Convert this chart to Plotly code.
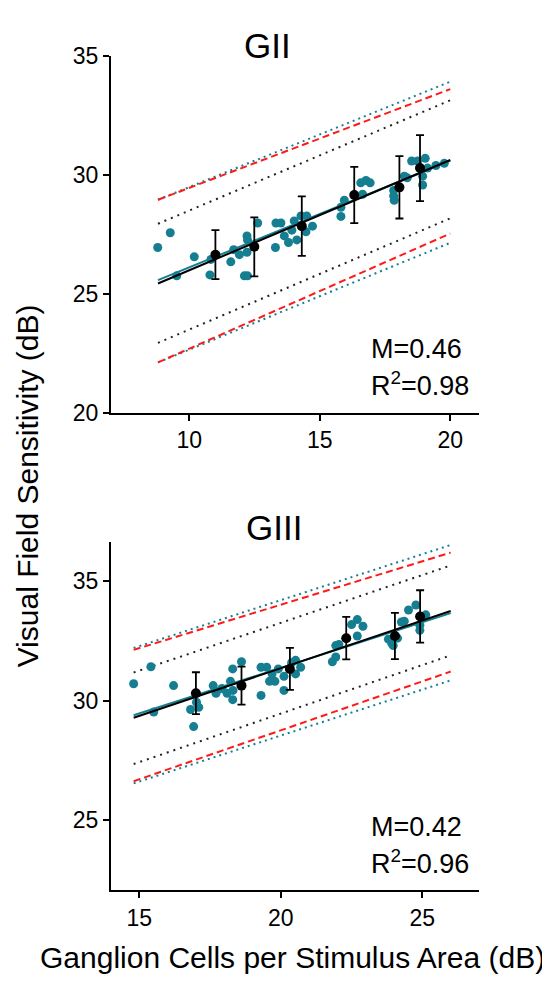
import plotly.graph_objects as go

W, H = 550, 984
TEAL = "#157f91"
FONT = "Arial, Liberation Sans, sans-serif"

# ---------------- GII data ----------------
gii_x = [8.79, 9.27, 9.52, 10.19, 10.79, 10.83, 11.59, 11.70, 11.92, 12.11, 12.23, 12.21, 12.21, 12.23,
         12.62, 13.30, 13.32, 13.51, 13.64, 13.80, 13.93, 14.02, 14.12, 14.28, 14.50, 14.47, 14.72,
         15.81, 15.81, 15.94, 16.57, 16.77, 16.93, 16.64, 17.83, 17.83, 17.85, 18.24, 18.35, 18.52,
         18.75, 19.04, 18.94, 18.94, 19.13, 19.45, 19.77]
gii_y = [26.95, 27.57, 25.76, 26.56, 25.80, 26.45, 26.35, 26.86, 26.65, 25.76, 25.76, 26.75, 27.44, 27.27,
         27.98, 26.95, 27.98, 27.98, 27.44, 27.16, 27.68, 28.07, 27.27, 28.28, 28.28, 27.61, 27.85,
         28.26, 28.64, 28.94, 29.67, 29.77, 29.67, 29.19, 29.35, 29.12, 28.94, 29.95, 29.88, 30.59,
         30.59, 30.70, 29.95, 29.58, 30.29, 30.40, 30.49]
gii_mean_x = [11.0, 12.49, 14.31, 16.32, 18.05, 18.84]
gii_mean_y = [26.65, 26.98, 27.85, 29.16, 29.48, 30.29]
gii_err = [1.03, 1.24, 1.25, 1.18, 1.31, 1.39]
gii_line_x = [8.8, 20.0]
gii_fit_black = [25.44, 30.63]
gii_fit_teal = [25.58, 30.60]
gii_pi_black_hi = [27.95, 33.14]
gii_pi_black_lo = [22.94, 28.18]
gii_pi_red_hi = [28.96, 33.61]
gii_pi_red_lo = [22.12, 27.54]
gii_pi_teal_hi = [28.96, 33.92]
gii_pi_teal_lo = [22.12, 27.15]

# ---------------- GIII data ----------------
giii_x = [14.80, 15.41, 15.51, 16.21, 16.81, 16.92, 17.02, 17.10, 17.61, 17.71, 17.92, 18.10, 18.22,
          18.30, 18.31, 18.30, 18.61, 19.30, 19.50, 19.30, 19.60, 19.79, 19.69, 19.91, 20.11, 20.11,
          20.38, 20.52, 20.52, 20.70, 21.82, 21.94, 21.94, 22.05, 22.50, 22.70, 22.70, 22.90, 23.80,
          23.92, 23.97, 24.12, 24.26, 24.36, 24.51, 24.77, 24.91, 24.91, 25.12]
giii_y = [30.71, 31.42, 29.52, 30.63, 29.63, 28.91, 29.93, 29.72, 30.63, 30.31, 30.51, 30.31, 30.81,
          31.33, 30.43, 30.04, 31.63, 31.40, 31.40, 30.22, 30.81, 30.81, 31.12, 31.33, 31.02, 30.43,
          31.59, 31.69, 31.12, 31.40, 31.63, 31.83, 32.31, 32.35, 33.19, 33.40, 32.71, 33.12, 32.58,
          32.40, 32.31, 32.62, 33.30, 33.33, 33.80, 34.01, 32.95, 33.16, 33.60]
giii_mean_x = [17.0, 18.61, 20.32, 22.31, 24.03, 24.92]
giii_mean_y = [30.31, 30.63, 31.33, 32.62, 32.71, 33.53]
giii_err = [0.88, 0.80, 0.88, 0.89, 0.97, 1.10]
giii_line_x = [14.8, 26.0]
giii_fit_black = [29.28, 33.76]
giii_fit_teal = [29.39, 33.67]
giii_pi_black_hi = [31.18, 35.67]
giii_pi_black_lo = [27.34, 31.90]
giii_pi_red_hi = [32.13, 36.21]
giii_pi_red_lo = [26.62, 31.22]
giii_pi_teal_hi = [32.21, 36.53]
giii_pi_teal_lo = [26.53, 30.85]

panels = [
    dict(xa="x", ya="y", px=gii_x, py=gii_y, mx=gii_mean_x, my=gii_mean_y, me=gii_err, lx=gii_line_x,
         fb=gii_fit_black, ft=gii_fit_teal, bh=gii_pi_black_hi, bl=gii_pi_black_lo,
         rh=gii_pi_red_hi, rl=gii_pi_red_lo, th=gii_pi_teal_hi, tl=gii_pi_teal_lo),
    dict(xa="x2", ya="y2", px=giii_x, py=giii_y, mx=giii_mean_x, my=giii_mean_y, me=giii_err, lx=giii_line_x,
         fb=giii_fit_black, ft=giii_fit_teal, bh=giii_pi_black_hi, bl=giii_pi_black_lo,
         rh=giii_pi_red_hi, rl=giii_pi_red_lo, th=giii_pi_teal_hi, tl=giii_pi_teal_lo),
]

fig = go.Figure()
for p in panels:
    ax = dict(xaxis=p["xa"], yaxis=p["ya"], showlegend=False, hoverinfo="skip")
    for key, col, dash in [("th", TEAL, "2px,4px"), ("tl", TEAL, "2px,4px"),
                           ("rh", "#ff1a1a", "7px,4px"), ("rl", "#ff1a1a", "7px,4px"),
                           ("bh", "#222222", "2px,5px"), ("bl", "#222222", "2px,5px")]:
        fig.add_trace(go.Scatter(x=p["lx"], y=p[key], mode="lines",
                                 line=dict(color=col, width=2, dash=dash), **ax))
    fig.add_trace(go.Scatter(x=p["px"], y=p["py"], mode="markers",
                             marker=dict(color=TEAL, size=9, line=dict(width=0)), **ax))
    fig.add_trace(go.Scatter(x=p["lx"], y=p["ft"], mode="lines",
                             line=dict(color=TEAL, width=2), **ax))
    fig.add_trace(go.Scatter(x=p["lx"], y=p["fb"], mode="lines",
                             line=dict(color="black", width=2), **ax))
    fig.add_trace(go.Scatter(x=p["mx"], y=p["my"], mode="markers",
                             marker=dict(color="black", size=10),
                             error_y=dict(type="data", array=p["me"], color="black",
                                          thickness=1.8, width=4), **ax))

axis_common = dict(showline=True, linecolor="black", linewidth=2, ticks="outside",
                   ticklen=6, tickwidth=1.5, tickcolor="black", showgrid=False,
                   zeroline=False, tickfont=dict(family=FONT, size=23, color="black"))

xd = [103 / W, 471 / W]
fig.update_layout(
    width=W, height=H, margin=dict(l=0, r=0, t=0, b=0),
    paper_bgcolor="white", plot_bgcolor="white",
    xaxis=dict(domain=xd, range=[7.0, 21.1], tickvals=[10, 15, 20], anchor="y", **axis_common),
    yaxis=dict(domain=[(H - 402.5) / H, (H - 36) / H], range=[20, 35], tickvals=[20, 25, 30, 35],
               anchor="x", **axis_common),
    xaxis2=dict(domain=xd, range=[14.0, 27.0], tickvals=[15, 20, 25], anchor="y2", **axis_common),
    yaxis2=dict(domain=[(H - 893) / H, (H - 535) / H], range=[22.04, 36.66], tickvals=[25, 30, 35],
                anchor="x2", **axis_common),
)

def ann(text, x, y, size, xanchor="center", angle=0):
    fig.add_annotation(text=text, x=x / W, y=(H - y) / H, xref="paper", yref="paper",
                       showarrow=False, xanchor=xanchor, yanchor="middle", textangle=angle,
                       font=dict(family=FONT, size=size, color="black"))

ann("GII", 234, 25, 35, "left")
ann("GIII", 236, 520, 35, "left")
ann("M=0.46", 361, 337, 27, "left")
ann("R<sup>2</sup>=0.98", 361, 373, 27, "left")
ann("M=0.42", 361, 828, 27, "left")
ann("R<sup>2</sup>=0.96", 361, 864, 27, "left")
ann("Visual Field Sensitivity (dB)", 19, 478, 30, angle=-90)
ann("Ganglion Cells per Stimulus Area (dB)", 284, 962, 30)

fig.write_html("out.html")
